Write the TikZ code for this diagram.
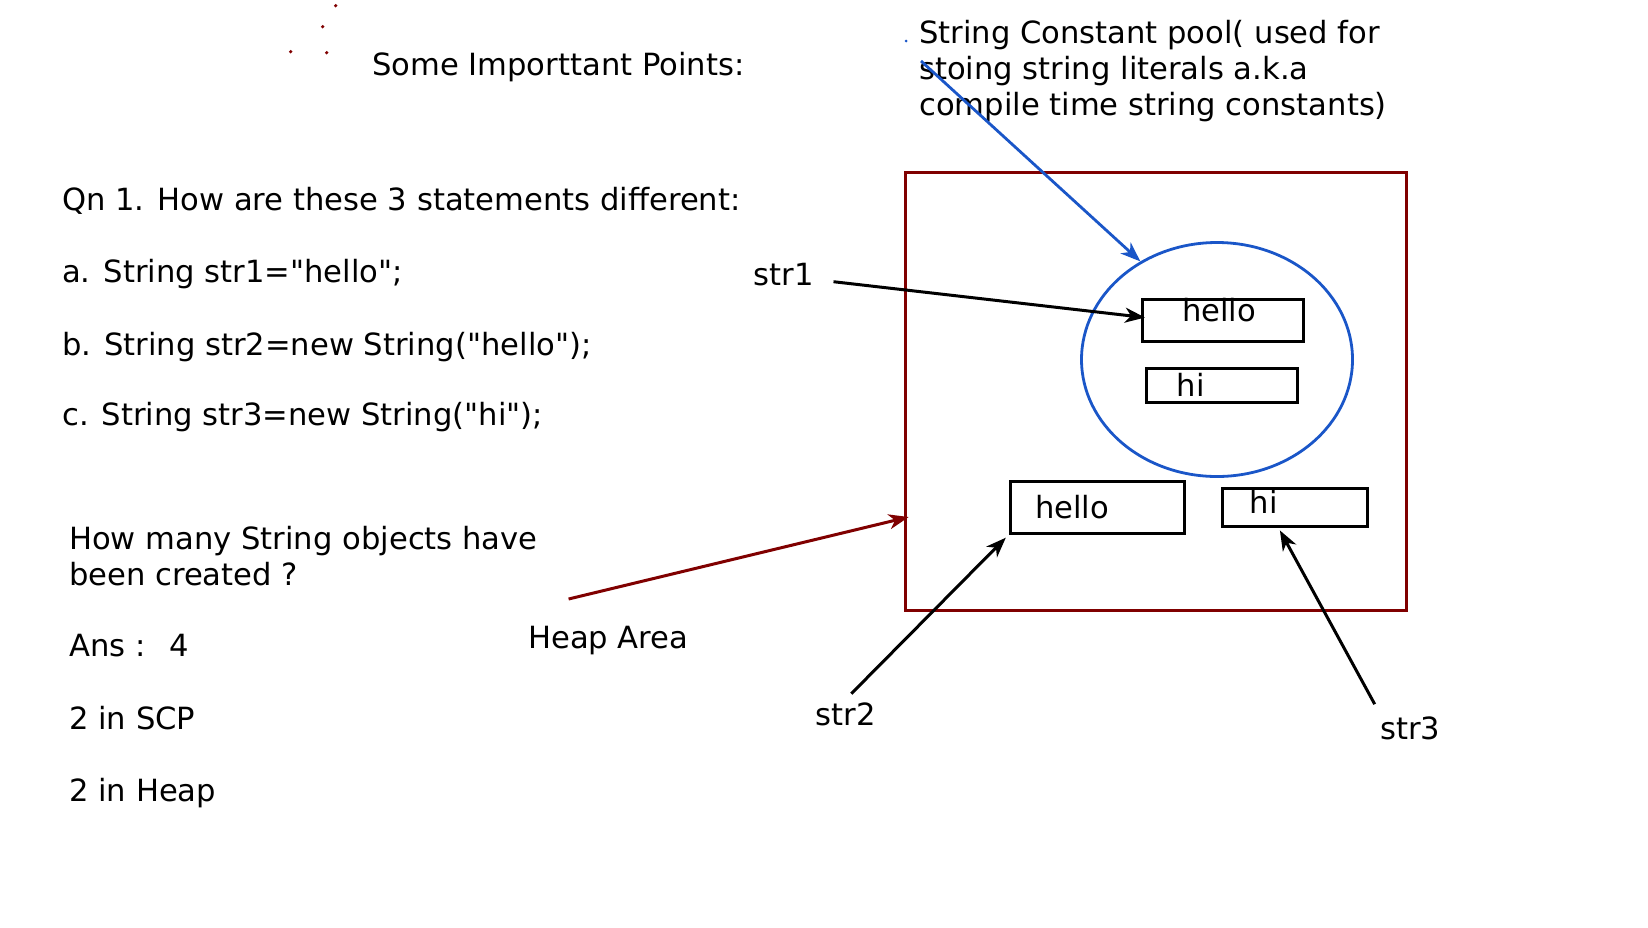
\documentclass[tikz,border=0pt]{standalone}
\usepackage{fontspec}
\newfontfamily\djv{DejaVu Sans}
\usetikzlibrary{arrows.meta,shapes.geometric}
\definecolor{heapred}{RGB}{128,0,0}
\definecolor{poolblue}{RGB}{26,86,200}

\begin{document}
\begin{tikzpicture}[x=1pt,y=-1pt,
			txt/.style={inner sep=0pt,anchor=base west,align=left,font=\djv\fontsize{30.6}{34.5}\selectfont},
			word/.style={inner sep=0pt,anchor=base,font=\djv\fontsize{30.6}{34.5}\selectfont},
			cell/.style={draw,line width=3pt,inner sep=0pt},
			ptr/.style={line width=3pt,-{Stealth[length=20pt,width=15pt,inset=6pt]}}]
				\useasboundingbox (0,0) rectangle (1648,927);
				\fill[heapred] (335.7,5.7) circle (1.8) (322.7,26.7) circle (1.8)
					(290.7,51.7) circle (1.8) (326.7,52.7) circle (1.8);
				\fill[poolblue] (906,41) circle (1.5);
				\node[txt] (title) at (372,75) {Some Importtant Points:};
				\node[txt,font=\djv\fontsize{30.6}{36}\selectfont] (scp) at (919,115.5) {String Constant pool( used for\\stoing string literals a.k.a\\compile time string constants)};
				\node[txt] (qn) at (62,210) {Qn 1. How are these 3 statements different:};
				\node[txt] (qa) at (62,282) {a. String str1="hello";};
				\node[txt] (qb) at (62,355) {b. String str2=new String("hello");};
				\node[txt] (qc) at (62,425) {c. String str3=new String("hi");};
				\node[txt,font=\djv\fontsize{30.6}{36}\selectfont] (howmany) at (69,585) {How many String objects have\\been created ?};
				\node[txt] (ans) at (69,656) {Ans :\hspace{24pt}4};
				\node[txt] (inscp) at (69,729) {2 in SCP};
				\node[txt] (inheap) at (69,801) {2 in Heap};
				\node[draw=heapred,line width=2.8pt,inner sep=0pt,minimum width=501pt,minimum height=438pt] (heap) at (1155.6,391.5) {};
				\node[draw=poolblue,ellipse,line width=2.8pt,inner sep=0pt,minimum width=271pt,minimum height=234pt] (pool) at (1217,359.5) {};
				\node[cell,minimum width=161pt,minimum height=42pt] (hello1) at (1223,320.5) {};
				\node[cell,minimum width=151pt,minimum height=34pt] (hi1) at (1222.3,385.8) {};
				\node[cell,minimum width=174pt,minimum height=52pt] (hello2) at (1097.3,507.2) {};
				\node[cell,minimum width=145pt,minimum height=38pt] (hi2) at (1294.9,507.9) {};
				\node[word] at ([shift={(-4,1.2)}]hello1.center) {hello};
				\node[word] at ([shift={(-31.7,11)}]hi1.center) {hi};
				\node[word] at ([shift={(-25.3,11.1)}]hello2.center) {hello};
				\node[word] at ([shift={(-31.2,5.4)}]hi2.center) {hi};
				\node[txt] (str1) at (753.6,285) {str1};
				\node[txt] (str2) at (815.6,725.7) {str2};
				\node[txt] (str3) at (1380,739.4) {str3};
				\node[txt] (area) at (528,648.3) {Heap Area};
				\coordinate (scpfrom) at (921,61);
				\coordinate (str1from) at (833.5,281.7);
				\coordinate (str2from) at (851.3,693.7);
				\coordinate (str3from) at (1374.7,704.2);
				\coordinate (areafrom) at (568.6,599);
				\draw[ptr,draw=poolblue,line width=2.8pt] (scpfrom) to (pool.128);
				\draw[ptr] (str1from) to ([xshift=4pt,yshift=3pt]hello1.west);
				\draw[ptr] (str2from) to ([xshift=-3pt,yshift=-3pt]hello2.south west);
				\draw[ptr] (str3from) to ([xshift=-15pt,yshift=-2pt]hi2.south);
				\draw[ptr,draw=heapred] (areafrom) to ([shift={(5,125.5)}]heap.west);
			\end{tikzpicture}
\end{document}
